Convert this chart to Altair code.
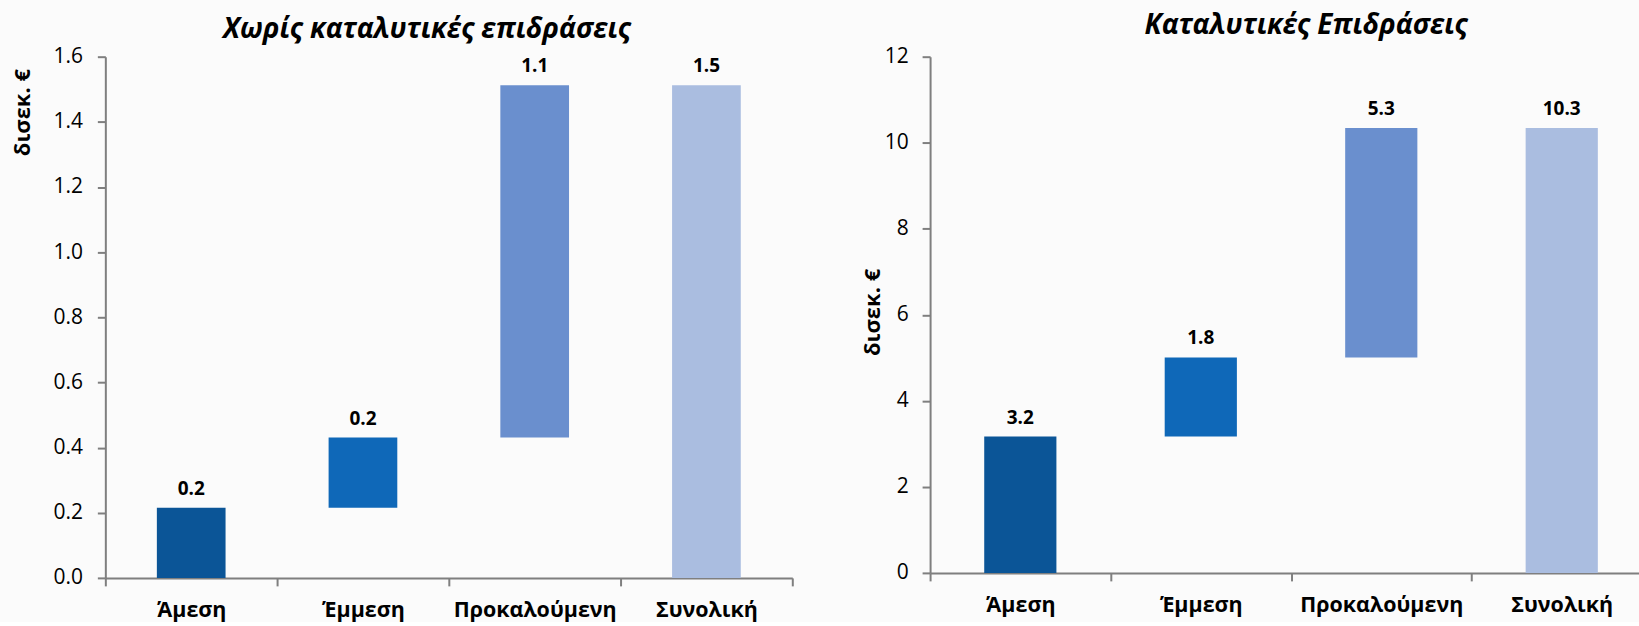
import json

import altair as alt
import pandas as pd

# Waterfall of economic impact (δισεκ. €): direct, indirect, induced, then the total
categories = ["Άμεση", "Έμμεση", "Προκαλούμενη", "Συνολική"]
bar_colors = ["#0b5597", "#0f68b8", "#6a8fce", "#aabde0"]

no_catalytic_parts = [0.215, 0.216, 1.081]
catalytic_parts = [3.17, 1.84, 5.33]

left_ticks = [0.0, 0.2, 0.4, 0.6, 0.8, 1.0, 1.2, 1.4, 1.6]
right_ticks = [0, 2, 4, 6, 8, 10, 12]

FONT = "Open Sans"
AXIS_GRAY = "#7f7f7f"
BAR_SHARE = 0.4  # bar width as a share of one category slot


def waterfall_frame(parts):
    rows = []
    running = 0.0
    for i, (cat, v) in enumerate(zip(categories[:-1], parts)):
        rows.append({"cat": cat, "idx": i, "start": running, "end": running + v, "value": v})
        running += v
    rows.append({"cat": categories[-1], "idx": len(parts), "start": 0.0,
                 "end": running, "value": running})
    df = pd.DataFrame(rows)
    df["lo"] = df["idx"] + (1 - BAR_SHARE) / 2
    df["hi"] = df["idx"] + (1 + BAR_SHARE) / 2
    df["mid"] = df["idx"] + 0.5
    return df


# category names sit in the middle of each slot, ticks on the slot borders
NAME_EXPR = ("datum.value % 1 == 0.5 ? " + json.dumps(categories, ensure_ascii=False)
             + "[floor(datum.value)] : ''")


def panel(parts, title, title_dx, title_offset, ticks, y_fmt, label_pad,
          width, slot_px, height, ytitle_x, ytitle_y):
    df = waterfall_frame(parts)
    x_max = width / slot_px
    x_values = [k / 2 for k in range(int(2 * x_max + 1e-9) + 1)]
    x_scale = alt.Scale(domain=[0, x_max], nice=False, zero=False)
    x_enc = alt.X(
        "lo:Q", title=None, scale=x_scale,
        axis=alt.Axis(
            values=x_values, labelExpr=NAME_EXPR, labelAngle=0,
            labelFlush=False, labelOverlap=False,
            tickSize=8, tickWidth=2, tickColor=AXIS_GRAY,
            tickOpacity=alt.condition("datum.value % 1 == 0", alt.value(1), alt.value(0)),
            domainColor=AXIS_GRAY, domainWidth=2,
            labelPadding=31, labelBaseline="alphabetic",
            labelFont=FONT, labelFontSize=21.5, labelFontWeight="bold",
            labelColor="#000000", grid=False,
        ),
    )
    y_enc = alt.Y(
        "start:Q",
        scale=alt.Scale(domain=[ticks[0], ticks[-1]], nice=False, zero=True),
        axis=alt.Axis(
            values=ticks, format=y_fmt, grid=False,
            tickSize=8, tickWidth=2, tickColor=AXIS_GRAY,
            domainColor=AXIS_GRAY, domainWidth=2,
            labelPadding=label_pad, labelFont=FONT, labelFontSize=21,
            labelColor="#000000",
            title="δισεκ. €", titleFont=FONT, titleFontSize=22,
            titleFontWeight="bold", titleColor="#000000",
            titleAngle=270, titleAlign="center", titleBaseline="middle",
            titleX=ytitle_x, titleY=ytitle_y,
        ),
    )
    bars = alt.Chart(df).mark_bar().encode(
        x=x_enc,
        x2="hi:Q",
        y=y_enc,
        y2="end:Q",
        color=alt.Color("cat:N", scale=alt.Scale(domain=categories, range=bar_colors), legend=None),
    )
    labels = alt.Chart(df).mark_text(
        font=FONT, fontSize=19, fontWeight="bold", color="#000000",
        baseline="alphabetic", dy=-13,
    ).encode(
        x=alt.X("mid:Q", scale=x_scale),
        y="end:Q",
        text=alt.Text("value:Q", format=".1f"),
    )
    return alt.layer(bars, labels).properties(
        width=width,
        height=height,
        title=alt.TitleParams(
            text=title, font=FONT, fontSize=28, fontStyle="italic",
            fontWeight="bold", color="#000000", anchor="middle",
            frame="group", baseline="alphabetic", offset=title_offset, dx=title_dx,
        ),
    )


left = panel(no_catalytic_parts, "Χωρίς καταλυτικές επιδράσεις", -22, -20,
             left_ticks, ".1f", 15, 688, 172, 522, -83, 55.5)
right = panel(catalytic_parts, "Καταλυτικές Επιδράσεις", 21.5, -16.6,
              right_ticks, "d", 14, 710, 180.75, 517, -58, 255.6)

chart = alt.hconcat(left, right, spacing=67).properties(
    padding={"left": 11.5, "top": 11.3, "right": 0, "bottom": 0},
    background="#fbfbfb",
).configure_view(stroke=None)

chart.save("out.html", embed_options={"renderer": "svg", "actions": False})
